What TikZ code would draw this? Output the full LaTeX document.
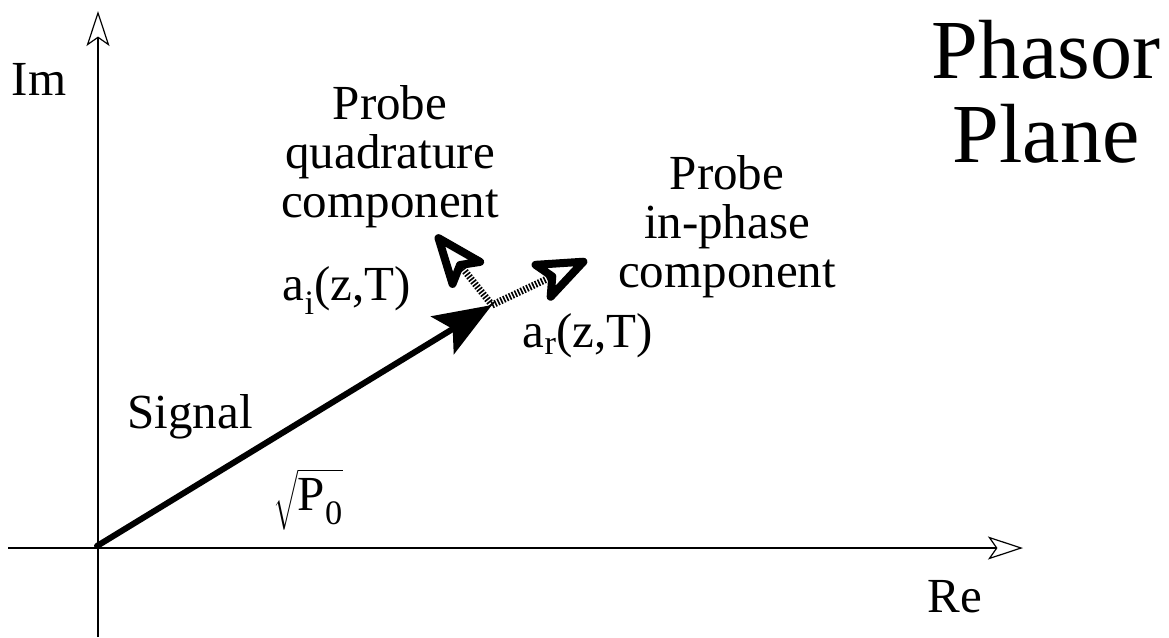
\documentclass[tikz,border=0pt]{standalone}
\usepackage{exscale}
\usepackage{fontspec}
\setmainfont{Liberation Serif}
\usetikzlibrary{arrows.meta}
\tikzset{
  lbl/.style={font=\fontsize{49}{49}\selectfont,inner sep=0pt,align=center},
  ttl/.style={font=\fontsize{84}{84}\selectfont,inner sep=0pt,align=center},
  axis/.style={line width=1.2pt,-{Stealth[open,length=35pt,width=23pt,inset=8pt]}},
  sig/.style={line width=6pt,line cap=round,-{Stealth[length=58pt,width=44pt,inset=12pt]}},
  prb/.style={line width=7pt,dash pattern=on 1.6pt off 1.6pt,-{Stealth[open,round,length=64pt,width=50pt,inset=14pt,line width=8pt]}}
}

\begin{document}
\begin{tikzpicture}[x=1pt,y=-1pt]
\useasboundingbox (0,0) rectangle (1169,637);
% axes
\coordinate (xl) at (8,548);
\coordinate (xr) at (1023,548);
\coordinate (yb) at (98,637);
\coordinate (yt) at (98,11);
\draw[axis] (xl)--(xr);
\draw[axis] (yb)--(yt);
% phasors
\coordinate (o) at (97,546);
\coordinate (s) at (492,305);
\coordinate (pi) at (587,260);
\coordinate (pq) at (436,235);
\draw[sig] (o)--(s);
\foreach \p in {pi,pq}{\draw[prb] (s)--(\p);}
% labels
\node[lbl,anchor=base] (im) at (39,95) {Im};
\node[lbl,anchor=base] (re) at (955,612) {Re};
\node[ttl,anchor=base] (ttl) at (1046,162) {Phasor\\Plane};
\node[lbl,anchor=base] (qd) at (390,217) {Probe\\quadrature\\component};
\node[lbl,anchor=base] (ip) at (727,287) {Probe\\in-phase\\component};
\node[lbl,anchor=base] (ai) at (347,300) {a\textsubscript{i}(z,T)};
\node[lbl,anchor=base] (ar) at (588,347) {a\textsubscript{r}(z,T)};
\node[lbl,anchor=base] (sl) at (190,428) {Signal};
\node[lbl,anchor=base] (p0) at (308,510) {$\sqrt{\mbox{P\textsubscript{0}}}$};
\end{tikzpicture}
\end{document}
